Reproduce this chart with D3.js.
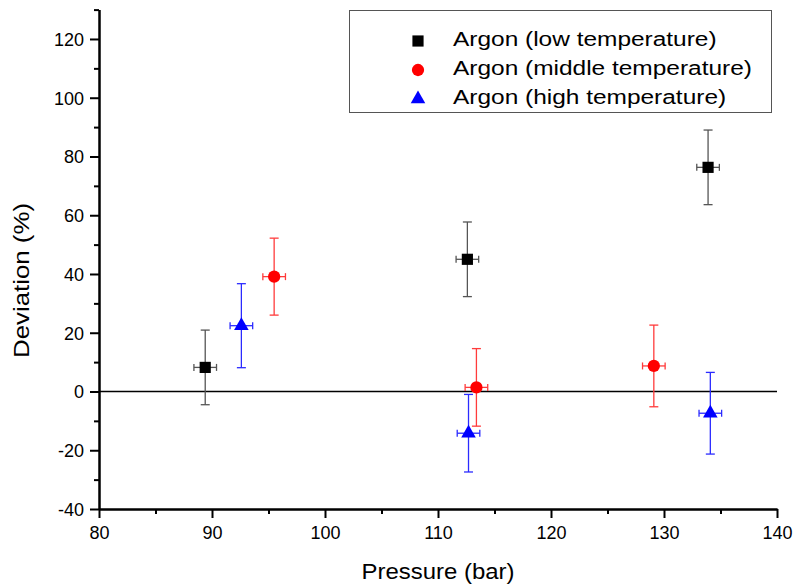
<!DOCTYPE html>
<html>
<head>
<meta charset="utf-8">
<script src="https://cdn.jsdelivr.net/npm/d3@7"></script>
<style>
  html, body { margin: 0; padding: 0; background: #fff; }
  svg { display: block; font-family: Arial, "Liberation Sans", sans-serif; }
</style>
</head>
<body>
<svg id="chart" width="795" height="587"></svg>
<script>
// ---- data ----
const seriesNames = ["Argon (low temperature)", "Argon (middle temperature)", "Argon (high temperature)"];
const lowX = [89.4, 112.6, 133.9];
const lowY = [8.2, 45.0, 76.3];
const lowYErr = [12.7, 12.7, 12.7];
const lowXErr = [1.0, 1.0, 1.0];
const midX = [95.5, 113.4, 129.1];
const midY = [39.1, 1.4, 8.7];
const midYErr = [13.1, 13.2, 13.9];
const midXErr = [1.0, 1.0, 1.0];
const highX = [92.6, 112.7, 134.1];
const highY = [22.4, -14.2, -7.4];
const highYErr = [14.3, 13.2, 13.9];
const highXErr = [1.0, 1.0, 1.0];
const xTicks = [80, 90, 100, 110, 120, 130, 140];
const xMinor = [85, 95, 105, 115, 125, 135];
const yTicks = [-40, -20, 0, 20, 40, 60, 80, 100, 120];
const yMinor = [-30, -10, 10, 30, 50, 70, 90, 110, 130];

const series = [
  { name: seriesNames[0], xs: lowX, ys: lowY, ye: lowYErr, xe: lowXErr, color: "#000000", err: "#555555", shape: d3.symbolSquare, size: 125 },
  { name: seriesNames[1], xs: midX, ys: midY, ye: midYErr, xe: midXErr, color: "#ff0000", err: "#ff3b3b", shape: d3.symbolCircle, size: 118 },
  { name: seriesNames[2], xs: highX, ys: highY, ye: highYErr, xe: highXErr, color: "#0000ff", err: "#2b2bff", shape: d3.symbolTriangle, size: 92 }
];

const svg = d3.select("#chart");
const x = d3.scaleLinear().domain([80, 140]).range([99, 777]);
const y = d3.scaleLinear().domain([-40, 130]).range([509, 9.6]);
const fmt = d => String(d);

// zero line
svg.append("line")
  .attr("x1", x(80)).attr("x2", x(140))
  .attr("y1", y(0)).attr("y2", y(0))
  .attr("stroke", "#000").attr("stroke-width", 1.6);

// axes
const xAxis = svg.append("g").attr("transform", `translate(0,${y(-40)})`)
  .call(d3.axisBottom(x).tickValues(xTicks).tickFormat(fmt).tickSize(9).tickPadding(8).tickSizeOuter(0));
const xAxisMinor = svg.append("g").attr("transform", `translate(0,${y(-40)})`)
  .call(d3.axisBottom(x).tickValues(xMinor).tickSize(5).tickFormat("").tickSizeOuter(0));
const yAxis = svg.append("g").attr("transform", `translate(${x(80)},0)`)
  .call(d3.axisLeft(y).tickValues(yTicks).tickFormat(fmt).tickSize(9).tickPadding(6).tickSizeOuter(0));
const yAxisMinor = svg.append("g").attr("transform", `translate(${x(80)},0)`)
  .call(d3.axisLeft(y).tickValues(yMinor).tickSize(5).tickFormat("").tickSizeOuter(0));

[xAxis, xAxisMinor, yAxis, yAxisMinor].forEach(g => {
  g.select(".domain").attr("stroke", "#000").attr("stroke-width", 2);
  g.selectAll(".tick line").attr("stroke", "#000").attr("stroke-width", 2);
  g.selectAll(".tick text").attr("fill", "#000").attr("font-size", 18)
    .attr("font-family", "Arial, 'Liberation Sans', sans-serif");
});
xAxis.selectAll(".tick text").attr("dy", "0.71em");
yAxis.selectAll(".tick text").attr("dy", "0.35em");

// axis titles
svg.append("text")
  .attr("x", (x(80) + x(140)) / 2).attr("y", 579)
  .attr("text-anchor", "middle").attr("font-size", 22)
  .attr("textLength", 153).attr("lengthAdjust", "spacingAndGlyphs")
  .text("Pressure (bar)");
svg.append("text")
  .attr("transform", `translate(29,280.5) rotate(-90)`)
  .attr("text-anchor", "middle").attr("font-size", 22)
  .attr("textLength", 155).attr("lengthAdjust", "spacingAndGlyphs")
  .text("Deviation (%)");

// error bars and markers
const capV = 4.5, capH = 3.5;
series.forEach(s => {
  const g = svg.append("g");
  s.xs.forEach((xv, i) => {
    const cx = x(xv), cy = y(s.ys[i]);
    const top = y(s.ys[i] + s.ye[i]), bot = y(s.ys[i] - s.ye[i]);
    const lft = x(xv - s.xe[i]), rgt = x(xv + s.xe[i]);
    const segs = [
      [cx, top, cx, bot],
      [cx - capV, top, cx + capV, top],
      [cx - capV, bot, cx + capV, bot],
      [lft, cy, rgt, cy],
      [lft, cy - capH, lft, cy + capH],
      [rgt, cy - capH, rgt, cy + capH]
    ];
    segs.forEach(sg => g.append("line")
      .attr("x1", sg[0]).attr("y1", sg[1]).attr("x2", sg[2]).attr("y2", sg[3])
      .attr("stroke", s.err).attr("stroke-width", 1.3));
  });
  g.selectAll("path.pt").data(s.xs.map((xv, i) => [xv, s.ys[i]])).enter()
    .append("path").attr("class", "pt")
    .attr("transform", d => `translate(${x(d[0])},${y(d[1])})`)
    .attr("d", d3.symbol().type(s.shape).size(s.size))
    .attr("fill", s.color);
});

// legend
const leg = svg.append("g");
leg.append("rect")
  .attr("x", 349.5).attr("y", 10.5).attr("width", 422).attr("height", 102)
  .attr("fill", "#fff").attr("stroke", "#555").attr("stroke-width", 1);
const legBase = [46, 75, 104];
series.forEach((s, i) => {
  leg.append("path")
    .attr("transform", `translate(418,${legBase[i] - 5})`)
    .attr("d", d3.symbol().type(s.shape).size(s.size))
    .attr("fill", s.color);
  leg.append("text")
    .attr("transform", `translate(453,${legBase[i]}) scale(1.165,1)`)
    .attr("font-size", 21).attr("fill", "#000")
    .text(s.name);
});
</script>
</body>
</html>
